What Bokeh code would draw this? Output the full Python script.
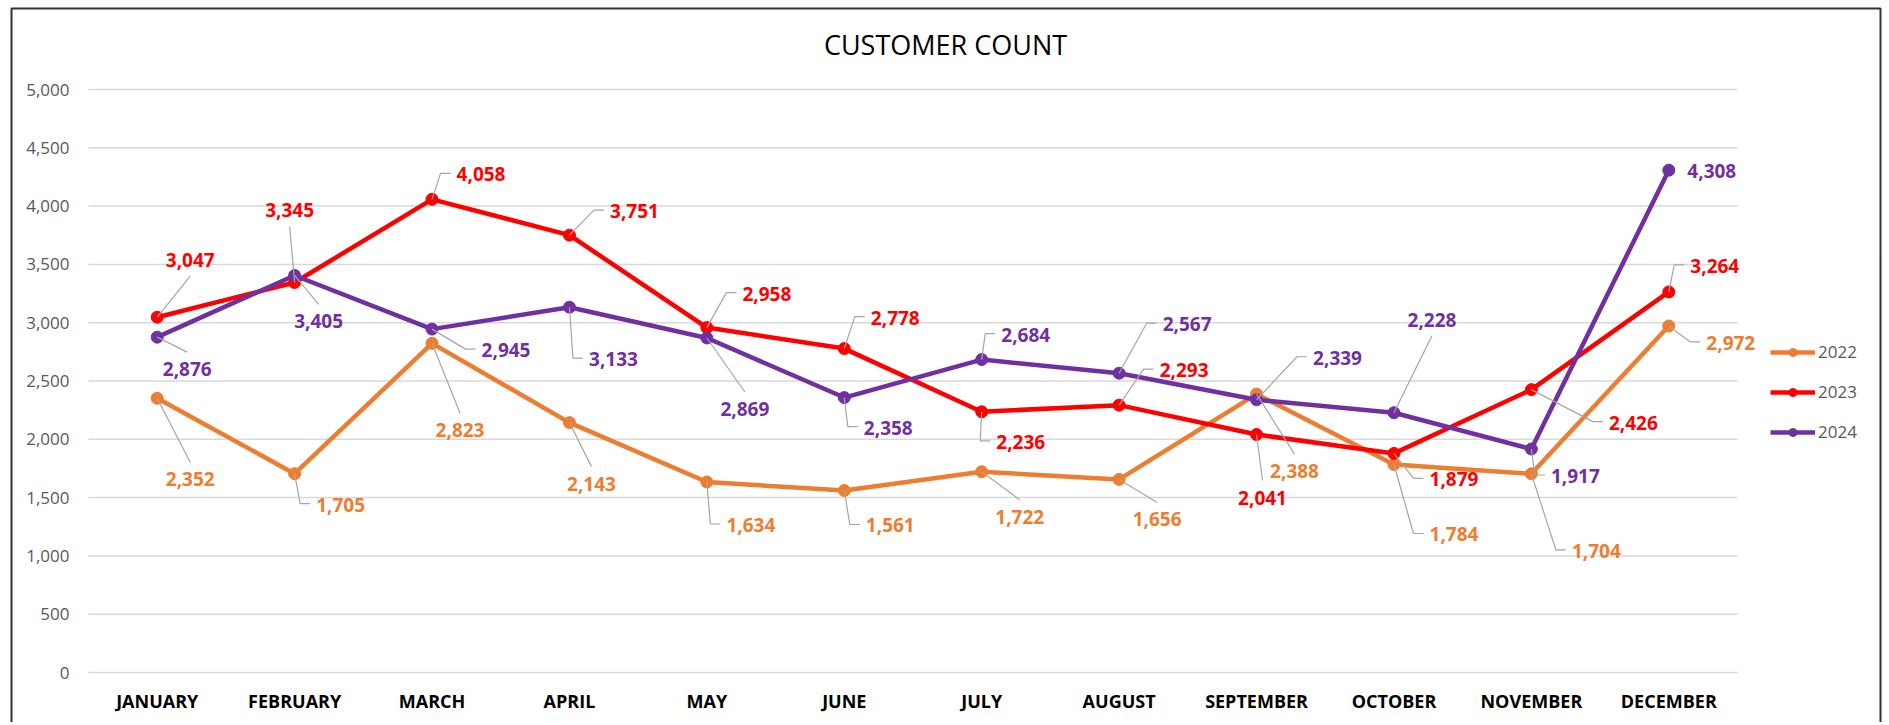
from bokeh.plotting import figure
from bokeh.models import Range1d, Legend, LegendItem, ColumnDataSource
from bokeh.core.properties import value
from bokeh.embed import file_html
from bokeh.resources import INLINE

# ---------------- data ----------------
months = ["JANUARY", "FEBRUARY", "MARCH", "APRIL", "MAY", "JUNE", "JULY",
          "AUGUST", "SEPTEMBER", "OCTOBER", "NOVEMBER", "DECEMBER"]
years = ["2022", "2023", "2024"]
count_2022 = [2352, 1705, 2823, 2143, 1634, 1561, 1722, 1656, 2388, 1784, 1704, 2972]
count_2023 = [3047, 3345, 4058, 3751, 2958, 2778, 2236, 2293, 2041, 1879, 2426, 3264]
count_2024 = [2876, 3405, 2945, 3133, 2869, 2358, 2684, 2567, 2339, 2228, 1917, 4308]
y_ticks = [0, 500, 1000, 1500, 2000, 2500, 3000, 3500, 4000, 4500, 5000]
title_text = "CUSTOMER COUNT"

# ---------------- styles / layout ----------------
series = {"2022": count_2022, "2023": count_2023, "2024": count_2024}
colors = {"2022": "#ED7D31", "2023": "#FF0000", "2024": "#7030A0"}
FONT = "Open Sans"

# data-label placement (pixel offsets from the point: dx, dy (down), leader kind)
label_pos = {
    "2022": [(33, 81, "T"), (46, 31, "L"), (28, 87, "T"), (22, 61, "T"), (44, 43, "L"),
             (46, 35, "L"), (38, 45, "T"), (38, 40, "T"), (38, 77, "T"), (60, 70, "L"),
             (65, 77, "L"), (62, 17, "L")],
    "2023": [(33, -57, "B"), (-5, -72, "B"), (49, -25, "L"), (65, -24, "L"), (60, -34, "L"),
             (51, -31, "L"), (39, 30, "L"), (65, -35, "L"), (6, 63, "T"), (60, 26, "L"),
             (102, 33, "L"), (46, -26, "L")],
    "2024": [(30, 32, "T"), (24, 46, "T"), (74, 21, "L"), (44, 52, "L"), (38, 71, "T"),
             (44, 30, "L"), (44, -25, "L"), (68, -49, "L"), (81, -42, "L"), (38, -93, "B"),
             (44, 27, "L"), (43, 1, "")],
}

W, H = 1886, 722            # canvas size (px)
X0, Y0 = 88, 672            # pixel position of the plot origin (x=0, y=0)
PW, PH = 1649, 583          # plot area size (px)
YMAX = 5000
NX = len(months)
UX = PW / NX                # px per x unit
UY = PH / YMAX              # px per y unit
HALF_W = 24.5


def dxu(px):  # canvas px (x) -> data
    return (px - X0) / UX


def dyu(py):  # canvas px (y, down) -> data
    return (Y0 - py) / UY


p = figure(width=W, height=H,
           x_range=Range1d(dxu(0), dxu(W)), y_range=Range1d(dyu(H), dyu(0)),
           min_border=0, output_backend="svg", toolbar_location=None)
p.xaxis.visible = False
p.yaxis.visible = False
p.xgrid.grid_line_color = None
p.ygrid.grid_line_color = None
p.outline_line_color = None
p.background_fill_color = "white"
p.border_fill_color = "white"

xc = [i + 0.5 for i in range(NX)]

# chart border (left, top, right)
p.multi_line(xs=[[dxu(11), dxu(11), dxu(1880), dxu(1880)]],
             ys=[[dyu(H + 5), dyu(8), dyu(8), dyu(H + 5)]],
             line_color="#333333", line_width=2)

# horizontal gridlines
p.segment(x0=[0] * len(y_ticks), x1=[NX] * len(y_ticks), y0=y_ticks, y1=y_ticks,
          line_color="#D9D9D9", line_width=1.5)

# y tick labels
p.text(x=[0] * len(y_ticks), y=y_ticks, text=[f"{t:,}" for t in y_ticks],
       x_offset=-19, text_font=value(FONT), text_font_size="17px",
       text_color="#595959", text_align="right", text_baseline="middle")

# x category labels
p.text(x=xc, y=[0] * NX, text=months, y_offset=28,
       text_font=value(FONT), text_font_size="18px", text_font_style="bold",
       text_color="#000000", text_align="center", text_baseline="middle")

# title
p.text(x=[dxu(945)], y=[dyu(44)], text=[title_text],
       text_font=value(FONT), text_font_size="27px", text_color="#000000",
       text_align="center", text_baseline="middle")

items = []
for yr in years:
    vals = series[yr]
    col = colors[yr]
    src = ColumnDataSource(dict(x=xc, y=vals))
    ln = p.line("x", "y", source=src, line_color=col, line_width=4.5, line_join="round")
    sc = p.scatter("x", "y", source=src, size=12, fill_color=col, line_color=col)
    items.append(LegendItem(label=yr, renderers=[ln, sc]))

# leader lines and data labels
for yr in years:
    vals = series[yr]
    col = colors[yr]
    xs, ys = [], []
    for i, (v, (ddx, ddy, kind)) in enumerate(zip(vals, label_pos[yr])):
        if kind == "L":
            pts = [(0, 0), (ddx - HALF_W - 16, ddy - 1), (ddx - HALF_W - 6, ddy - 1)]
        elif kind == "T":
            pts = [(0, 0), (ddx, ddy - 17)]
        elif kind == "B":
            pts = [(0, 0), (ddx, ddy + 16)]
        else:
            continue
        xs.append([xc[i] + a / UX for a, b in pts])
        ys.append([v - b / UY for a, b in pts])
    p.multi_line(xs, ys, line_color="#A6A6A6", line_width=1.2)

    lsrc = ColumnDataSource(dict(
        x=xc, y=vals, t=[f"{v:,}" for v in vals],
        dx=[d[0] for d in label_pos[yr]], dy=[d[1] for d in label_pos[yr]]))
    p.text("x", "y", text="t", x_offset="dx", y_offset="dy", source=lsrc,
           text_font=value(FONT), text_font_style="bold", text_font_size="19px",
           text_color=col, text_align="center", text_baseline="middle")

legend = Legend(items=items, location=(1770, H - 443), orientation="vertical",
                glyph_width=45, glyph_height=20, label_height=20, spacing=17,
                label_standoff=3, padding=0, margin=0,
                border_line_color=None, background_fill_alpha=0,
                label_text_font=FONT, label_text_font_size="17px",
                label_text_color="#595959")
p.add_layout(legend)

open("out.html", "w").write(file_html(p, INLINE))
